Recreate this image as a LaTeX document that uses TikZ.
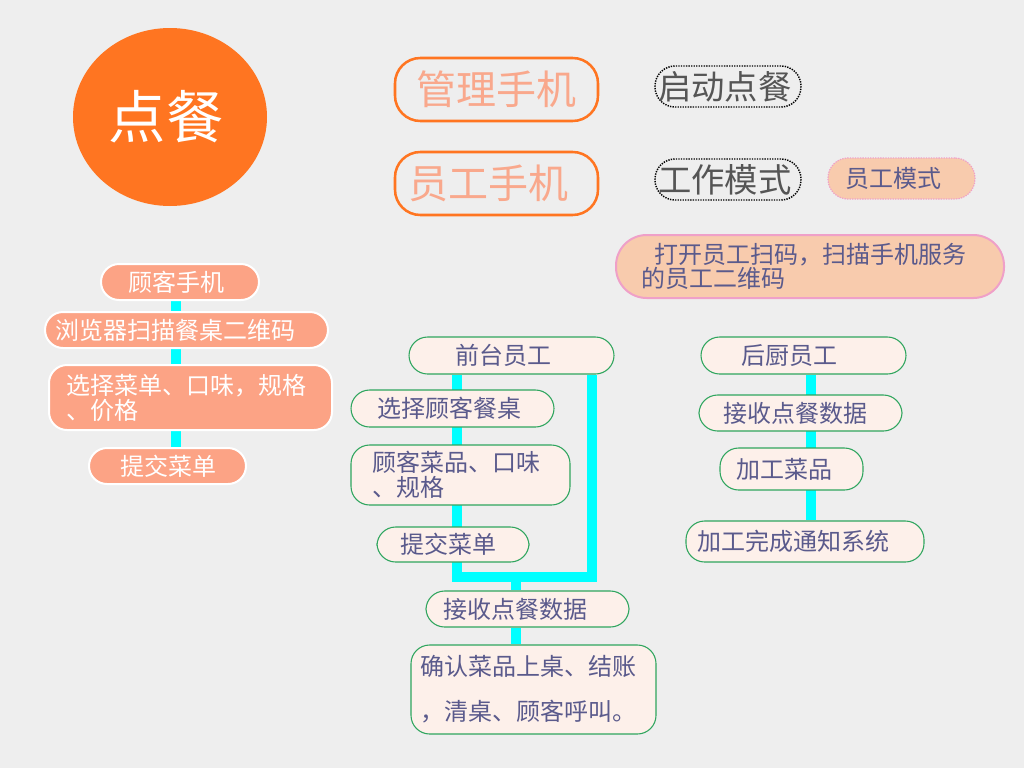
\documentclass[tikz,border=0pt]{standalone}
\usepackage{fontspec}
\setmainfont{Noto Sans CJK SC}
\usetikzlibrary{shapes.geometric}
\pgfdeclarelayer{bg}
\pgfsetlayers{bg,main}
\definecolor{bgc}{HTML}{EEEEEE}
\definecolor{orng}{HTML}{FF7521}
\definecolor{salm}{HTML}{F9A88C}
\definecolor{lfill}{HTML}{FCA385}
\definecolor{mfill}{HTML}{FDF0EA}
\definecolor{grn}{HTML}{2EA55E}
\definecolor{txtb}{HTML}{5A5A8C}
\definecolor{peach}{HTML}{F8CBAD}
\definecolor{pinkb}{HTML}{EFA0C8}
\definecolor{greyt}{HTML}{555555}
\definecolor{cyanl}{HTML}{00FFFF}
\newcommand\bx[8]{%
 \pgfmathsetmacro\bxw{(#5-#3-2*#7)*0.75}%
 \pgfmathsetmacro\bxh{(#6-#4)*0.75}%
 \pgfmathsetmacro\bxp{#7*0.75}%
 \node[#2, inner xsep=\bxp pt, inner ysep=0pt, text width=\bxw pt, minimum height=\bxh pt, align=left] (#1) at ({(#3+#5)/2},{(#4+#6)/2}) {#8};}
\tikzset{
 lbox/.style={draw=white, line width=1.5pt, fill=lfill, text=white, rounded corners=13.5pt, font=\fontsize{18}{18.75}\selectfont},
 mbox/.style={draw=grn, line width=0.8pt, fill=mfill, text=txtb, rounded corners=14pt, font=\fontsize{18}{18.75}\selectfont},
 obox/.style={draw=orng, line width=1.9pt, text=salm, rounded corners=19pt, font=\fontsize{30}{32}\selectfont},
 dbox/.style={draw=black, line width=1.1pt, dash pattern=on 1pt off 0.9pt, text=greyt, rounded corners=15pt, font=\fontsize{25}{27}\selectfont},
 pbox/.style={draw=pinkb, line width=0.9pt, dash pattern=on 1pt off 0.9pt, fill=peach, text=txtb, rounded corners=15pt, font=\fontsize{18}{18.75}\selectfont},
 kbox/.style={draw=pinkb, line width=1.5pt, fill=peach, text=txtb, rounded corners=23pt, font=\fontsize{18}{18}\selectfont},
 link/.style={draw=cyanl, line width=7pt},
}
\begin{document}
\begin{tikzpicture}[x=0.75pt,y=-0.75pt]
\begin{pgfonlayer}{bg}
\fill[bgc] (0,0) rectangle (1024,768);
\end{pgfonlayer}
\useasboundingbox (0,0) rectangle (1024,768);
% title circle
\node[ellipse, fill=orng, inner sep=0pt, minimum width=145.5pt, minimum height=133.5pt, text=white, font=\fontsize{43}{45}\selectfont] (dc) at (170,117) {点餐\hspace*{6pt}};
% top boxes
\bx{gl}{obox}{395}{58}{598}{121}{21}{管理手机}
\bx{yg}{obox}{395}{152}{598}{215}{13}{员工手机}
\bx{qd}{dbox}{655}{66}{801}{107}{3}{启动点餐}
\bx{gz}{dbox}{655}{159}{801}{200}{3}{工作模式}
\bx{ym}{pbox}{828}{158}{975}{199}{17}{员工模式}
\bx{dk}{kbox}{616}{235}{1004}{298}{25}{\hspace*{9.75pt}打开员工扫码，扫描手机服务\\的员工二维码}
% left column
\bx{kh}{lbox}{101}{264}{259}{300}{27}{顾客手机}
\bx{ll}{lbox}{45}{312}{328}{348}{10}{浏览器扫描餐桌二维码}
\bx{xz}{lbox}{49}{365}{332}{430}{17}{选择菜单、口味，规格\\、价格}
\bx{tj}{lbox}{89}{448}{246}{484}{31}{提交菜单}
% middle column
\bx{qt}{mbox}{409}{337}{614}{374}{46}{前台员工}
\bx{xg}{mbox}{351}{390}{554}{427}{26}{选择顾客餐桌}
\bx{gk}{mbox}{351}{445}{570}{505}{21}{顾客菜品、口味\\、规格}
\bx{tc}{mbox}{377}{527}{529}{562}{23}{提交菜单}
\bx{js}{mbox}{426}{591}{629}{627}{17}{接收点餐数据}
\bx{qr}{mbox,font=\fontsize{18}{33.75}\selectfont}{411}{645}{656}{734}{9}{确认菜品上桌、结账\\，清桌、顾客呼叫。}
% right column
\bx{hc}{mbox}{701}{337}{906}{374}{40}{后厨员工}
\bx{rj}{mbox}{699}{395}{902}{431}{24}{接收点餐数据}
\bx{jg}{mbox}{720}{448}{863}{490}{16}{加工菜品}
\bx{wc}{mbox}{686}{521}{924}{562}{11}{加工完成通知系统}
% connectors
\coordinate (lc) at (176,0);
\coordinate (rc) at (811,0);
\coordinate (jl) at (457,577);
\coordinate (jr) at (592,577);
\coordinate (jm) at (516,577);
\begin{pgfonlayer}{bg}
\draw[link] (kh.south -| lc) -- (tj.north -| lc);
\draw[link] (hc.south -| rc) -- (wc.north -| rc);
\draw[link] (qt.south -| jl) -- (jl) -- (jr) -- (qt.south -| jr);
\draw[link] (jm) -- (js.north -| jm);
\draw[link] (js.south -| jm) -- (qr.north -| jm);
\end{pgfonlayer}
\end{tikzpicture}
\end{document}
